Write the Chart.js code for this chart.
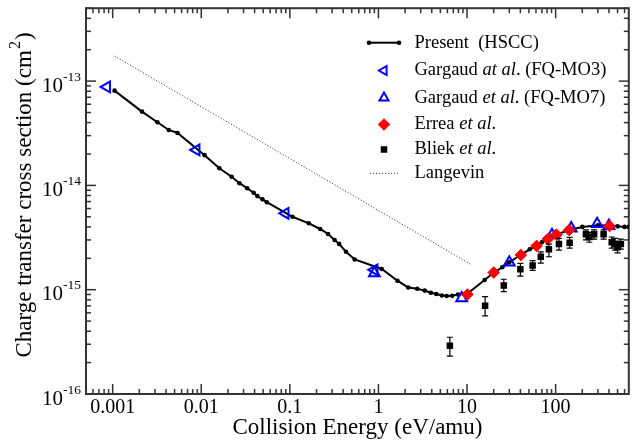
<!DOCTYPE html>
<html><head><meta charset="utf-8">
<script src="https://cdn.jsdelivr.net/npm/chart.js@4.4.1/dist/chart.umd.min.js"></script>
<style>html,body{margin:0;padding:0;background:#fff;overflow:hidden}canvas{display:block}</style>
</head><body>
<canvas id="c" width="637" height="445"></canvas>
<script>
// ---- data ----
const presentX = [0.00105,0.00214,0.0032,0.0043,0.0054,0.0109,0.016,0.022,0.027,0.033,0.039,0.043,0.049,0.055,0.107,0.164,0.22,0.27,0.32,0.36,0.43,0.54,1.09,1.64,2.17,2.74,3.33,3.9,4.5,5.2,5.9,6.8,7.9,10,15.8,20,25,30,40,51,60,70,80,90,100,150,200,300,400,500,600,670];
const presentY = [8.1e-14,5.1e-14,4.03e-14,3.4e-14,3.18e-14,1.95e-14,1.46e-14,1.21e-14,1.05e-14,9.4e-15,8.5e-15,7.9e-15,7.35e-15,6.9e-15,5.0e-15,4.33e-15,3.82e-15,3.42e-15,3.0e-15,2.75e-15,2.31e-15,1.95e-15,1.58e-15,1.22e-15,1.05e-15,1.02e-15,9.8e-16,9.35e-16,9.1e-16,8.8e-16,8.7e-16,8.75e-16,9.0e-16,9.1e-16,1.24e-15,1.46e-15,1.64e-15,1.83e-15,2.15e-15,2.44e-15,2.63e-15,2.85e-15,3.06e-15,3.25e-15,3.37e-15,3.78e-15,4.0e-15,4.15e-15,4.12e-15,4.05e-15,4.0e-15,4.0e-15];

const mo3X = [0.00086,0.0088,0.089,0.9];
const mo3Y = [8.8e-14,2.19e-14,5.4e-15,1.55e-15];

const mo7X = [0.9,8.7,30,91,150,294,400];
const mo7Y = [1.44e-15,8.3e-16,1.83e-15,3.34e-15,3.88e-15,4.27e-15,4.1e-15];

const erreaX = [10.1,20,40.5,61,81.5,102,142,406];
const erreaY = [9.0e-16,1.46e-15,2.15e-15,2.63e-15,3.06e-15,3.37e-15,3.73e-15,4.08e-15];

const bliekX = [6.4,16,26,40,55,68,84,109,144,220,240,272,348,430,470,500,545];
const bliekY = [2.9e-16,7.0e-16,1.1e-15,1.57e-15,1.71e-15,2.07e-15,2.44e-15,2.74e-15,2.82e-15,3.4e-15,3.2e-15,3.4e-15,3.4e-15,2.85e-15,2.75e-15,2.55e-15,2.75e-15];
const bliekLow  = [2.31e-16,5.6e-16,9.6e-16,1.35e-15,1.53e-15,1.8e-15,2.07e-15,2.4e-15,2.5e-15,3.0e-15,2.85e-15,3.05e-15,3.05e-15,2.5e-15,2.4e-15,2.25e-15,2.45e-15];
const bliekHigh = [3.5e-16,8.6e-16,1.26e-15,1.79e-15,1.9e-15,2.31e-15,2.74e-15,3.1e-15,3.18e-15,3.75e-15,3.55e-15,3.75e-15,3.75e-15,3.2e-15,3.1e-15,2.9e-15,3.05e-15];

const langevinX = [0.00105,11];
const langevinY = [1.74e-13,1.75e-15];

const xTickValues = [0.001,0.01,0.1,1,10,100];
const xTickLabels = ['0.001','0.01','0.1','1','10','100'];
const yTickValues = [1e-16,1e-15,1e-14,1e-13];
const yTickExponents = ['-16','-15','-14','-13'];

const xAxisTitle = 'Collision Energy (eV/amu)';
const yAxisTitleMain = 'Charge transfer cross section (cm';
const yAxisTitleSup = '2';
const yAxisTitleEnd = ')';

const legendEntries = [
  {key:'present', parts:[['Present  (HSCC)',false]]},
  {key:'mo3', parts:[['Gargaud ',false],['at al',true],['. (FQ-MO3)',false]]},
  {key:'mo7', parts:[['Gargaud ',false],['et al',true],['. (FQ-MO7)',false]]},
  {key:'errea', parts:[['Errea ',false],['et al',true],['.',false]]},
  {key:'bliek', parts:[['Bliek ',false],['et al',true],['.',false]]},
  {key:'langevin', parts:[['Langevin',false]]}
];

// ---- chart ----
const FONT = '"Liberation Serif","Times New Roman",serif';
const pts = (xs, ys) => xs.map((x,i)=>({x:x, y:ys[i]}));

const styles = {
  present:{pointStyle:'circle', radius:2.3, rotation:0, fill:'#000', stroke:'#000', bw:0},
  mo3:{pointStyle:'triangle', radius:6.2, rotation:270, fill:'rgba(0,0,0,0)', stroke:'#0000ff', bw:2},
  mo7:{pointStyle:'triangle', radius:6.2, rotation:0, fill:'rgba(0,0,0,0)', stroke:'#0000ff', bw:2},
  errea:{pointStyle:'rectRot', radius:5.8, rotation:0, fill:'#ff0000', stroke:'#ff0000', bw:1},
  bliek:{pointStyle:'rect', radius:4.6, rotation:0, fill:'#000', stroke:'#000', bw:0}
};

function scatterDs(label, data, st, order){
  return {label, data, showLine:false, order,
    pointStyle:st.pointStyle, pointRadius:st.radius, pointRotation:st.rotation,
    pointBackgroundColor:st.fill, pointBorderColor:st.stroke, pointBorderWidth:st.bw,
    backgroundColor:st.fill, borderColor:st.stroke};
}

const framePlugin = {
  id:'frame',
  beforeDatasetsDraw(chart){
    const {ctx, chartArea:a, scales:{x, y}} = chart;
    ctx.save();
    ctx.strokeStyle = '#333';
    ctx.lineWidth = 1.5;
    const seg = (x1,y1,x2,y2)=>{ctx.beginPath();ctx.moveTo(x1,y1);ctx.lineTo(x2,y2);ctx.stroke();};
    for (let e=-5; e<=3; e++){
      for (let m=1; m<10; m++){
        const v = m*Math.pow(10,e);
        if (v < x.min*0.999 || v > x.max*1.001) continue;
        const px = x.getPixelForValue(v);
        const L = m===1 ? 10 : 5;
        seg(px, a.bottom, px, a.bottom-L);
        seg(px, a.top, px, a.top+L);
      }
    }
    for (let e=-17; e<=-12; e++){
      for (let m=1; m<10; m++){
        const v = m*Math.pow(10,e);
        if (v < y.min*0.999 || v > y.max*1.001) continue;
        const py = y.getPixelForValue(v);
        const L = m===1 ? 10 : 5;
        seg(a.left, py, a.left+L, py);
        seg(a.right, py, a.right-L, py);
      }
    }
    ctx.lineWidth = 2;
    ctx.strokeRect(a.left, a.top, a.right-a.left, a.bottom-a.top);

    // tick labels
    ctx.fillStyle = '#000';
    ctx.font = '20px '+FONT;
    ctx.textAlign = 'center';
    ctx.textBaseline = 'middle';
    xTickValues.forEach((v,i)=>{
      ctx.fillText(xTickLabels[i], x.getPixelForValue(v), a.bottom+14);
    });
    yTickValues.forEach((v,i)=>{
      const py = y.getPixelForValue(v);
      ctx.font = '13.5px '+FONT;
      ctx.textAlign = 'right';
      const ew = ctx.measureText(yTickExponents[i]).width;
      ctx.fillText(yTickExponents[i], a.left-5, py-4);
      ctx.font = '21px '+FONT;
      ctx.fillText('10', a.left-5-ew, py+5);
    });

    // axis titles
    ctx.font = '23px '+FONT;
    ctx.textAlign = 'center';
    ctx.textBaseline = 'middle';
    ctx.fillText(xAxisTitle, (a.left+a.right)/2, 428);

    ctx.save();
    ctx.translate(31, 195);
    ctx.rotate(-Math.PI/2);
    ctx.textBaseline = 'alphabetic';
    ctx.textAlign = 'left';
    ctx.font = '23px '+FONT;
    const w1 = ctx.measureText(yAxisTitleMain).width;
    const w3 = ctx.measureText(yAxisTitleEnd).width;
    ctx.font = '16px '+FONT;
    const w2 = ctx.measureText(yAxisTitleSup).width;
    const total = w1+w2+w3+2;
    let sx = -total/2;
    ctx.font = '23px '+FONT;
    ctx.fillText(yAxisTitleMain, sx, 0);
    ctx.font = '16px '+FONT;
    ctx.fillText(yAxisTitleSup, sx+w1+1, -11);
    ctx.font = '23px '+FONT;
    ctx.fillText(yAxisTitleEnd, sx+w1+w2+2, 0);
    ctx.restore();
    ctx.restore();
  },
  afterDatasetsDraw(chart){
    const {ctx, scales:{x, y}} = chart;
    ctx.save();
    // error bars for Bliek et al.
    ctx.strokeStyle = '#000';
    ctx.lineWidth = 1.2;
    bliekX.forEach((bx,i)=>{
      const px = x.getPixelForValue(bx);
      const lo = y.getPixelForValue(bliekLow[i]);
      const hi = y.getPixelForValue(bliekHigh[i]);
      ctx.beginPath();
      ctx.moveTo(px, lo); ctx.lineTo(px, hi);
      ctx.moveTo(px-3, lo); ctx.lineTo(px+3, lo);
      ctx.moveTo(px-3, hi); ctx.lineTo(px+3, hi);
      ctx.stroke();
    });

    // legend
    const rowsY = [42.7, 70.5, 97.8, 124.5, 149.5, 173.3];
    const symX = 384, textX = 414.5;
    legendEntries.forEach((e,i)=>{
      const ly = rowsY[i];
      if (e.key === 'present'){
        ctx.strokeStyle = '#000'; ctx.lineWidth = 2; ctx.setLineDash([]);
        ctx.beginPath(); ctx.moveTo(369, ly); ctx.lineTo(399, ly); ctx.stroke();
        ctx.fillStyle = '#000';
        [369,399].forEach(cx=>{ctx.beginPath(); ctx.arc(cx, ly, 2.3, 0, Math.PI*2); ctx.fill();});
      } else if (e.key === 'langevin'){
        ctx.strokeStyle = '#444'; ctx.lineWidth = 1; ctx.setLineDash([1.2,1.8]);
        ctx.beginPath(); ctx.moveTo(370, ly); ctx.lineTo(398, ly); ctx.stroke();
        ctx.setLineDash([]);
      } else {
        const st = styles[e.key];
        ctx.fillStyle = st.fill; ctx.strokeStyle = st.stroke; ctx.lineWidth = st.bw;
        const r = e.key==='mo3'||e.key==='mo7' ? 5.2 : st.radius;
        Chart.helpers.drawPoint(ctx, {pointStyle:st.pointStyle, radius:r, rotation:st.rotation, borderWidth:st.bw}, symX, ly);
      }
      ctx.fillStyle = '#000';
      ctx.textAlign = 'left';
      ctx.textBaseline = 'middle';
      let tx = textX;
      e.parts.forEach(p=>{
        ctx.font = (p[1] ? 'italic ' : '') + '18.5px ' + FONT;
        ctx.fillText(p[0], tx, ly);
        tx += ctx.measureText(p[0]).width;
      });
    });
    ctx.restore();
  }
};

new Chart(document.getElementById('c'), {
  type:'scatter',
  data:{datasets:[
    {label:'Langevin', data:pts(langevinX, langevinY), showLine:true, order:6,
      borderColor:'#444', borderWidth:1, borderDash:[1.2,1.8], pointRadius:0, fill:false},
    {label:'Present (HSCC)', data:pts(presentX, presentY), showLine:true, order:5,
      borderColor:'#000', borderWidth:2, pointRadius:2.3, pointBackgroundColor:'#000',
      pointBorderWidth:0, tension:0, fill:false},
    scatterDs('Gargaud at al. (FQ-MO3)', pts(mo3X, mo3Y), styles.mo3, 4),
    scatterDs('Gargaud et al. (FQ-MO7)', pts(mo7X, mo7Y), styles.mo7, 3),
    scatterDs('Errea et al.', pts(erreaX, erreaY), styles.errea, 2),
    scatterDs('Bliek et al.', pts(bliekX, bliekY), styles.bliek, 1)
  ]},
  options:{
    responsive:false, animation:false, devicePixelRatio:1, events:[],
    layout:{padding:{top:7.5, right:1, left:0, bottom:0}},
    plugins:{legend:{display:false}, tooltip:{enabled:false}},
    scales:{
      x:{type:'logarithmic', min:5e-4, max:670,
        grid:{display:false, drawTicks:false}, border:{display:false},
        ticks:{display:false},
        afterFit(s){ s.height = 51; }},
      y:{type:'logarithmic', min:1e-16, max:5e-13,
        grid:{display:false, drawTicks:false}, border:{display:false},
        ticks:{display:false},
        afterFit(s){ s.width = 86; }}
    }
  },
  plugins:[framePlugin]
});
</script>
</body></html>
